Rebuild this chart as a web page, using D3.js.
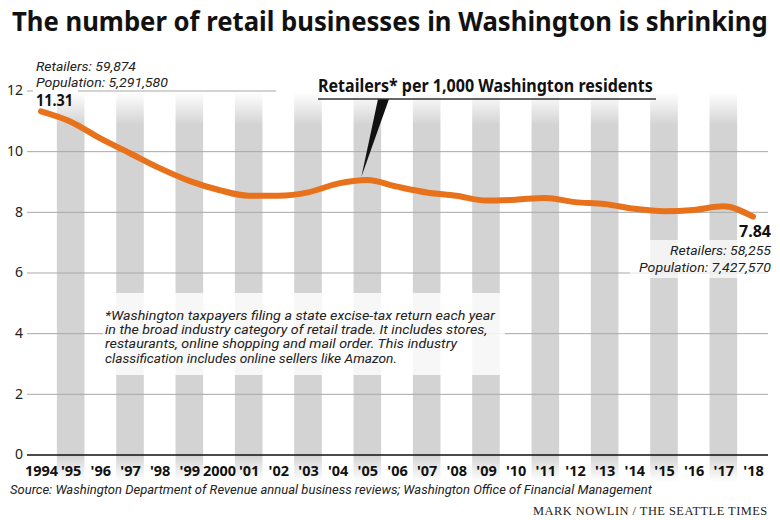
<!DOCTYPE html>
<html>
<head>
<meta charset="utf-8">
<script src="https://cdn.jsdelivr.net/npm/d3@7"></script>
<style>
  html, body { margin: 0; padding: 0; background: #fff; }
  svg { display: block; }
</style>
</head>
<body>
<svg id="chart" width="780" height="520"></svg>
<script>
// ---------------- data ----------------
const years = [1994, 1995, 1996, 1997, 1998, 1999, 2000, 2001, 2002, 2003, 2004, 2005,
               2006, 2007, 2008, 2009, 2010, 2011, 2012, 2013, 2014, 2015, 2016, 2017, 2018];
const retailersPer1000 = [11.31, 10.97, 10.42, 9.93, 9.44, 9.02, 8.72, 8.53, 8.53, 8.64, 8.93, 9.05,
                          8.83, 8.64, 8.53, 8.37, 8.40, 8.46, 8.32, 8.26, 8.10, 8.02, 8.06, 8.18, 7.84];
const yearLabels = ["1994", "'95", "'96", "'97", "'98", "'99", "2000", "'01", "'02", "'03", "'04", "'05",
                    "'06", "'07", "'08", "'09", "'10", "'11", "'12", "'13", "'14", "'15", "'16", "'17", "'18"];
const shadedYears = [1995, 1997, 1999, 2001, 2003, 2005, 2007, 2009, 2011, 2013, 2015, 2017];
const yTicks = [0, 2, 4, 6, 8, 10, 12];

const titleText = "The number of retail businesses in Washington is shrinking";
const seriesLabel = "Retailers* per 1,000 Washington residents";
const startNotes = ["Retailers: 59,874", "Population: 5,291,580"];
const endNotes = ["Retailers: 58,255", "Population: 7,427,570"];
const footnoteLines = [
  "*Washington taxpayers filing a state excise-tax return each year",
  "in the broad industry category of retail trade. It includes stores,",
  "restaurants, online shopping and mail order. This industry",
  "classification includes online sellers like Amazon."
];
const sourceText = "Source: Washington Department of Revenue annual business reviews; Washington Office of Financial Management";
const creditText = "MARK NOWLIN / THE SEATTLE TIMES";

// ---------------- layout ----------------
const svg = d3.select("#chart");
const plotL = 27, plotR = 768;
const sans = "'Noto Sans', 'Open Sans', sans-serif";
const ital = "Roboto, 'Noto Sans', sans-serif";
const ORANGE = "#e8721c";
const GRAY = "#d3d3d3";

const x = d3.scalePoint().domain(years).range([41, 753]);
const y = d3.scaleLinear().domain([0, 12]).range([454.5, 90.5]);
const colW = x.step() * 0.93;

// place a text at (tx, ty) and squeeze it horizontally to width w
function label(tx, ty, txt, w, opts) {
  const t = svg.append("text")
    .attr("x", 0).attr("y", 0)
    .attr("font-family", opts.family || sans)
    .attr("font-size", opts.size)
    .attr("font-weight", opts.weight || 400)
    .attr("font-style", opts.style || "normal")
    .attr("fill", opts.fill || "#1a1a1a")
    .attr("text-anchor", opts.anchor || "start")
    .text(txt);
  if (opts.ls) t.attr("letter-spacing", opts.ls);
  const w0 = t.node().getComputedTextLength();
  const k = w ? w / w0 : 1;
  t.attr("transform", `translate(${tx},${ty}) scale(${k},1)`);
  return t;
}

// gradient for shaded columns
const defs = svg.append("defs");
const colTop = 92, colBot = 482;
const grad = defs.append("linearGradient")
  .attr("id", "colGrad").attr("gradientUnits", "userSpaceOnUse")
  .attr("x1", 0).attr("x2", 0).attr("y1", colTop).attr("y2", colBot);
[[0, 0], [0.085, 1], [0.93, 1], [1, 0]].forEach(([o, op]) =>
  grad.append("stop").attr("offset", o).attr("stop-color", GRAY).attr("stop-opacity", op));

// title
label(12, 31, titleText, 756, { size: 26, weight: 700, fill: "#111" });

// shaded columns
svg.append("g").selectAll("rect").data(shadedYears).join("rect")
  .attr("x", d => x(d) - colW / 2)
  .attr("y", colTop)
  .attr("width", colW)
  .attr("height", colBot - colTop)
  .attr("fill", "url(#colGrad)");

// y axis with gridlines
const yAxis = svg.append("g")
  .attr("transform", `translate(${plotL},0)`)
  .call(d3.axisLeft(y).tickValues(yTicks).tickSize(-(plotR - plotL)).tickPadding(4).tickFormat(d3.format("d")));
yAxis.select(".domain").remove();
yAxis.selectAll(".tick line")
  .attr("stroke", d => d === 0 ? "#111" : "#a8a8a8")
  .attr("stroke-width", d => d === 0 ? 1.6 : 1);
yAxis.selectAll(".tick text")
  .attr("font-family", sans).attr("font-size", 14).attr("fill", "#222");

// white masks (gaps in the 12 gridline)
svg.append("rect").attr("x", 33).attr("y", 86).attr("width", 45).attr("height", 8).attr("fill", "#fff");
svg.append("rect").attr("x", 276).attr("y", 86).attr("width", 500).attr("height", 8).attr("fill", "#fff");

// x axis labels
const xAxis = svg.append("g")
  .attr("transform", "translate(0,466)")
  .call(d3.axisBottom(x).tickSize(0).tickPadding(0).tickFormat((d, i) => yearLabels[i]));
xAxis.select(".domain").remove();
xAxis.selectAll(".tick text")
  .attr("font-family", sans).attr("font-weight", 700).attr("font-size", 14.5).attr("fill", "#111");

// translucent boxes
svg.append("rect").attr("x", 103).attr("y", 293).attr("width", 402).attr("height", 82)
  .attr("fill", "#fff").attr("fill-opacity", 0.82);
svg.append("rect").attr("x", 630).attr("y", 240).attr("width", 146).attr("height", 38)
  .attr("fill", "#fff").attr("fill-opacity", 0.72);

// line
const line = d3.line()
  .x((d, i) => x(years[i]))
  .y(d => y(d))
  .curve(d3.curveMonotoneX);
svg.append("path")
  .datum(retailersPer1000)
  .attr("d", line)
  .attr("fill", "none")
  .attr("stroke", ORANGE)
  .attr("stroke-width", 6)
  .attr("stroke-linejoin", "round")
  .attr("stroke-linecap", "round");

// series label + pointer
const i05 = years.indexOf(2005);
const px = x(2005) - 6, py = y(retailersPer1000[i05]) - 3;
svg.append("path")
  .attr("d", `M378,99 L389,99 L${px},${py} Z`)
  .attr("fill", "#111");
label(318, 92, seriesLabel, 335, { size: 17, weight: 700, fill: "#111" });
svg.append("line").attr("x1", 318).attr("x2", 656).attr("y1", 99).attr("y2", 99)
  .attr("stroke", "#333").attr("stroke-width", 1.5);

// start annotations
label(36, 71, startNotes[0], 100, { family: ital, size: 13.5, style: "italic", fill: "#222" });
label(36, 87, startNotes[1], 132, { family: ital, size: 13.5, style: "italic", fill: "#222" });
label(36, 106, d3.format(".2f")(retailersPer1000[0]), 37, { size: 15.5, weight: 700, fill: "#111" });

// end annotations
label(771, 237, d3.format(".2f")(retailersPer1000[retailersPer1000.length - 1]), 32,
      { size: 15.5, weight: 700, fill: "#111", anchor: "end" });
label(771, 255, endNotes[0], 101, { family: ital, size: 13.5, style: "italic", fill: "#222", anchor: "end" });
label(771, 272, endNotes[1], 132, { family: ital, size: 13.5, style: "italic", fill: "#222", anchor: "end" });

// footnote
const fnWidths = [390, 382, 352, 292];
footnoteLines.forEach((t, i) => {
  label(105, 319.5 + i * 14.4, t, fnWidths[i], { family: ital, size: 12.2, style: "italic", fill: "#222" });
});

// source and credit
label(10, 494, sourceText, 642, { family: ital, size: 13, style: "italic", fill: "#222" });
label(533, 515, creditText, 235, { family: "'Liberation Serif', 'DejaVu Serif', serif", size: 13, fill: "#222", ls: 0.5 });
</script>
</body>
</html>
